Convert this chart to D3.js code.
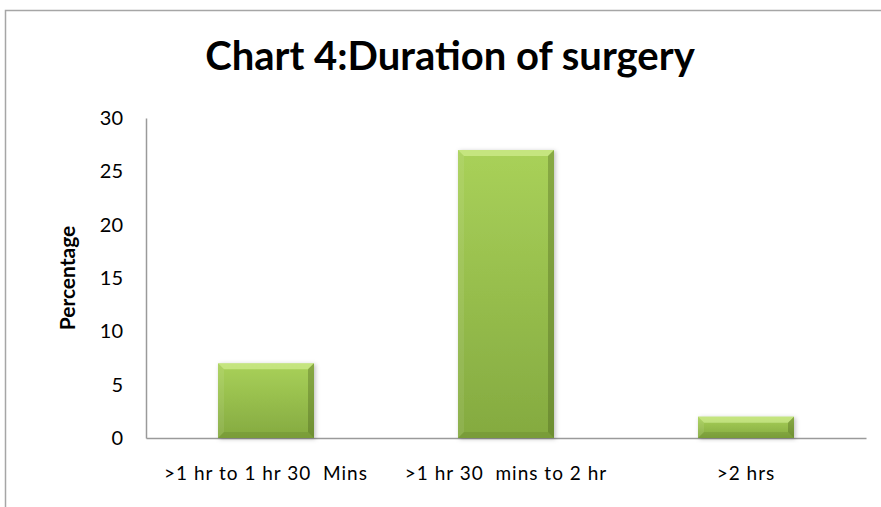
<!DOCTYPE html>
<html>
<head>
<meta charset="utf-8">
<script src="https://cdn.jsdelivr.net/npm/d3@7"></script>
<style>
  html, body { margin: 0; background: #fff; overflow: hidden; }
  svg { display: block; }
  svg text { font-family: Lato, "Open Sans", sans-serif; fill: #000; }
</style>
</head>
<body>
<div id="chart"></div>
<script>
// data
var categories = [">1 hr to 1 hr 30  Mins", ">1 hr 30  mins to 2 hr", ">2 hrs"];
var percentages = [7, 27, 2];
var yTicks = [0, 5, 10, 15, 20, 25, 30];

var width = 881, height = 507;
var plot = { left: 146, right: 866, top: 118, bottom: 438 };

var svg = d3.select("#chart").append("svg")
  .attr("width", width)
  .attr("height", height);

// outer chart frame (only left and top edges are inside the picture)
svg.append("path")
  .attr("d", "M5.5," + height + "V10.5H" + width)
  .attr("fill", "none")
  .attr("stroke", "#a6a6a6")
  .attr("stroke-width", 1.5);

var x = d3.scaleBand()
  .domain(categories)
  .range([plot.left, plot.right])
  .paddingInner(0.6)
  .paddingOuter(0.3);

var y = d3.scaleLinear()
  .domain([0, 30])
  .range([plot.bottom, plot.top]);

// title
svg.append("text")
  .attr("x", 450).attr("y", 70)
  .attr("text-anchor", "middle")
  .style("font-size", "40px")
  .style("font-weight", "bold")
  .text("Chart 4:Duration of surgery");

// y axis label
svg.append("text")
  .attr("transform", "translate(75," + ((plot.top + plot.bottom) / 2) + ") rotate(-90)")
  .attr("text-anchor", "middle")
  .style("font-size", "21px")
  .style("font-weight", "bold")
  .text("Percentage");

// y axis
var yAxis = svg.append("g")
  .attr("transform", "translate(" + plot.left + ",0)")
  .call(d3.axisLeft(y).tickValues(yTicks).tickSize(0).tickPadding(23));
yAxis.select(".domain").attr("stroke", "#9a9a9a").attr("stroke-width", 1.5);
yAxis.selectAll("text").style("font-size", "20px").attr("fill", "#000");

// x axis
var xAxis = svg.append("g")
  .attr("transform", "translate(0," + plot.bottom + ")")
  .call(d3.axisBottom(x).tickSize(0).tickPadding(29));
xAxis.select(".domain").attr("stroke", "#9a9a9a").attr("stroke-width", 1.5);
xAxis.selectAll("text")
  .style("font-size", "19px")
  .style("letter-spacing", "1px")
  .style("white-space", "pre")
  .attr("fill", "#000");

// bar gradient + shadow
var defs = svg.append("defs");
var grad = defs.append("linearGradient").attr("id", "barFill")
  .attr("x1", 0).attr("y1", 0).attr("x2", 0).attr("y2", 1);
grad.append("stop").attr("offset", "0%").attr("stop-color", "#a9d159");
grad.append("stop").attr("offset", "100%").attr("stop-color", "#84aa40");

var shadow = defs.append("filter").attr("id", "shadow")
  .attr("x", "-20%").attr("y", "-20%").attr("width", "140%").attr("height", "140%");
shadow.append("feDropShadow")
  .attr("dx", 1.5).attr("dy", 1).attr("stdDeviation", 2)
  .attr("flood-color", "#000").attr("flood-opacity", 0.25);

var bev = 6;
var bars = svg.append("g").selectAll("g")
  .data(categories)
  .enter().append("g");

bars.append("rect")
  .attr("x", function(d) { return x(d); })
  .attr("y", function(d, i) { return y(percentages[i]); })
  .attr("width", x.bandwidth())
  .attr("height", function(d, i) { return y(0) - y(percentages[i]); })
  .attr("fill", "url(#barFill)")
  .attr("filter", "url(#shadow)");

// bevel edges
function bevelPath(side) {
  return function(d, i) {
    var x0 = x(d), x1 = x(d) + x.bandwidth();
    var y0 = y(percentages[i]), y1 = y(0);
    var b = Math.min(bev, (y1 - y0) / 2);
    if (side === "top") return [[x0, y0], [x1, y0], [x1 - b, y0 + b], [x0 + b, y0 + b]];
    if (side === "bottom") return [[x0, y1], [x1, y1], [x1 - b, y1 - b], [x0 + b, y1 - b]];
    if (side === "left") return [[x0, y0], [x0 + b, y0 + b], [x0 + b, y1 - b], [x0, y1]];
    return [[x1, y0], [x1 - b, y0 + b], [x1 - b, y1 - b], [x1, y1]];
  };
}
var bevelColors = { top: "rgba(220,245,160,0.55)", left: "rgba(255,255,255,0.08)", right: "rgba(60,80,20,0.3)", bottom: "rgba(60,80,20,0.15)" };
["top", "left", "right", "bottom"].forEach(function(side) {
  bars.append("polygon")
    .attr("points", function(d, i) { return bevelPath(side)(d, i).join(" "); })
    .attr("fill", bevelColors[side]);
});
</script>
</body>
</html>
